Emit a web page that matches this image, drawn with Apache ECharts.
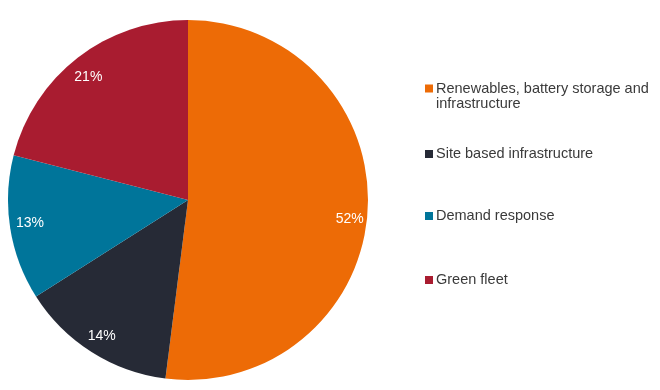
<!DOCTYPE html>
<html><head><meta charset="utf-8">
<script src="https://cdn.jsdelivr.net/npm/echarts@6/dist/echarts.min.js"></script>
<style>html,body{margin:0;padding:0;background:#fff}#c{width:660px;height:390px}</style>
</head><body><div id="c"></div>
<script>
const categories = ['Renewables, battery storage and infrastructure', 'Site based infrastructure', 'Demand response', 'Green fleet'];
const values = [52, 14, 13, 21];

const colors = ['#ED6B06', '#262A36', '#00759A', '#A91C30'];
const font = 'Arial, "Liberation Sans", sans-serif';
const legendTops = [73.5, 146.5, 208.5, 272.5];
const labelShift = [[1, 9], [0, 0], [1, -2], [-1, 4]];

const legends = categories.map((n, i) => ({
  data: [n],
  orient: 'vertical',
  left: 425,
  top: i === 0 ? legendTops[0] - 7.5 : legendTops[i],
  padding: 0,
  icon: 'rect',
  itemWidth: 8,
  itemHeight: 8,
  itemGap: 0,
  selectedMode: false,
  formatter: name => i === 0 ? '\nRenewables, battery storage and\ninfrastructure' : name,
  textStyle: { fontFamily: font, fontSize: 14.5, color: '#3a3a3a', lineHeight: 15, padding: [0, 0, 0, -2] }
}));

const chart = echarts.init(document.getElementById('c'), null, { renderer: 'canvas' });
chart.setOption({
  animation: false,
  legend: legends,
  series: [
    {
      type: 'pie', center: [188, 200], radius: [0, 180], startAngle: 90, clockwise: true,
      data: categories.map((n, i) => ({ name: n, value: values[i], itemStyle: { color: colors[i] } })),
      label: { show: false }, labelLine: { show: false }, silent: true,
      itemStyle: { borderWidth: 0 }
    },
    {
      type: 'pie', center: [188, 200], radius: [136, 180], startAngle: 90, clockwise: true,
      data: categories.map((n, i) => ({
        name: n, value: values[i], itemStyle: { color: 'rgba(0,0,0,0)' },
        label: { offset: labelShift[i] }
      })),
      silent: true, legendHoverLink: false,
      label: { show: true, position: 'inside', formatter: p => p.value + '%', color: '#fff', fontFamily: font, fontSize: 14 },
      labelLine: { show: false }
    }
  ]
});
</script></body></html>
